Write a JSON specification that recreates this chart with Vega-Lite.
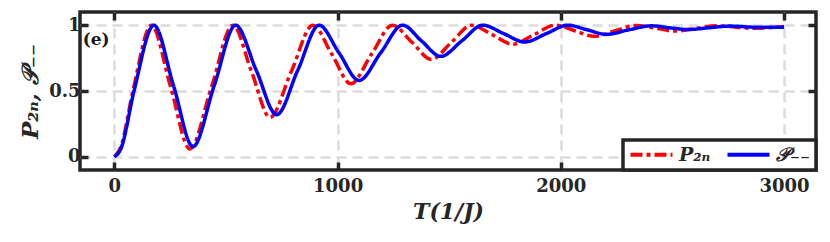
{
  "$schema": "https://vega.github.io/schema/vega-lite/v6.json",
  "width": 736,
  "height": 158,
  "autosize": {"type": "none"},
  "padding": {"left": 80, "top": 12, "right": 14, "bottom": 72},
  "config": {"view": {"stroke": "#262626", "strokeWidth": 3.5}, "font": "DejaVu Serif"},
  "datasets": {
    "curves": [
      {"t": 0, "p": 0, "s": "P₂ₙ"}, {"t": 30, "p": 0.08, "s": "P₂ₙ"}, {"t": 83, "p": 0.5, "s": "P₂ₙ"}, {"t": 166, "p": 1, "s": "P₂ₙ"},
      {"t": 252, "p": 0.53, "s": "P₂ₙ"}, {"t": 338, "p": 0.06, "s": "P₂ₙ"}, {"t": 435, "p": 0.53, "s": "P₂ₙ"}, {"t": 531, "p": 1, "s": "P₂ₙ"},
      {"t": 614, "p": 0.65, "s": "P₂ₙ"}, {"t": 697, "p": 0.3, "s": "P₂ₙ"}, {"t": 793, "p": 0.65, "s": "P₂ₙ"}, {"t": 889, "p": 1, "s": "P₂ₙ"},
      {"t": 974, "p": 0.78, "s": "P₂ₙ"}, {"t": 1059, "p": 0.555, "s": "P₂ₙ"}, {"t": 1152, "p": 0.78, "s": "P₂ₙ"}, {"t": 1246, "p": 1, "s": "P₂ₙ"},
      {"t": 1333, "p": 0.87, "s": "P₂ₙ"}, {"t": 1420, "p": 0.74, "s": "P₂ₙ"}, {"t": 1510, "p": 0.87, "s": "P₂ₙ"}, {"t": 1600, "p": 1, "s": "P₂ₙ"},
      {"t": 1692, "p": 0.928, "s": "P₂ₙ"}, {"t": 1785, "p": 0.855, "s": "P₂ₙ"}, {"t": 1880, "p": 0.928, "s": "P₂ₙ"}, {"t": 1975, "p": 1, "s": "P₂ₙ"},
      {"t": 2062, "p": 0.958, "s": "P₂ₙ"}, {"t": 2150, "p": 0.915, "s": "P₂ₙ"}, {"t": 2244, "p": 0.958, "s": "P₂ₙ"}, {"t": 2338, "p": 0.998, "s": "P₂ₙ"},
      {"t": 2424, "p": 0.977, "s": "P₂ₙ"}, {"t": 2510, "p": 0.955, "s": "P₂ₙ"}, {"t": 2605, "p": 0.975, "s": "P₂ₙ"}, {"t": 2700, "p": 0.995, "s": "P₂ₙ"},
      {"t": 2785, "p": 0.985, "s": "P₂ₙ"}, {"t": 2870, "p": 0.976, "s": "P₂ₙ"}, {"t": 3000, "p": 0.99, "s": "P₂ₙ"},
      {"t": 0, "p": 0, "s": "𝒫₋₋"}, {"t": 30, "p": 0.065, "s": "𝒫₋₋"}, {"t": 88, "p": 0.5, "s": "𝒫₋₋"}, {"t": 177, "p": 1, "s": "𝒫₋₋"},
      {"t": 265, "p": 0.54, "s": "𝒫₋₋"}, {"t": 352, "p": 0.077, "s": "𝒫₋₋"}, {"t": 447, "p": 0.54, "s": "𝒫₋₋"}, {"t": 543, "p": 1, "s": "𝒫₋₋"},
      {"t": 635, "p": 0.66, "s": "𝒫₋₋"}, {"t": 727, "p": 0.32, "s": "𝒫₋₋"}, {"t": 822, "p": 0.66, "s": "𝒫₋₋"}, {"t": 917, "p": 1, "s": "𝒫₋₋"},
      {"t": 1006, "p": 0.79, "s": "𝒫₋₋"}, {"t": 1096, "p": 0.58, "s": "𝒫₋₋"}, {"t": 1193, "p": 0.79, "s": "𝒫₋₋"}, {"t": 1291, "p": 1, "s": "𝒫₋₋"},
      {"t": 1376, "p": 0.88, "s": "𝒫₋₋"}, {"t": 1462, "p": 0.763, "s": "𝒫₋₋"}, {"t": 1556, "p": 0.88, "s": "𝒫₋₋"}, {"t": 1650, "p": 1, "s": "𝒫₋₋"},
      {"t": 1744, "p": 0.936, "s": "𝒫₋₋"}, {"t": 1838, "p": 0.872, "s": "𝒫₋₋"}, {"t": 1935, "p": 0.936, "s": "𝒫₋₋"}, {"t": 2031, "p": 1, "s": "𝒫₋₋"},
      {"t": 2117, "p": 0.965, "s": "𝒫₋₋"}, {"t": 2204, "p": 0.93, "s": "𝒫₋₋"}, {"t": 2305, "p": 0.965, "s": "𝒫₋₋"}, {"t": 2406, "p": 0.995, "s": "𝒫₋₋"},
      {"t": 2487, "p": 0.98, "s": "𝒫₋₋"}, {"t": 2569, "p": 0.967, "s": "𝒫₋₋"}, {"t": 2663, "p": 0.98, "s": "𝒫₋₋"}, {"t": 2757, "p": 0.993, "s": "𝒫₋₋"},
      {"t": 2880, "p": 0.984, "s": "𝒫₋₋"}, {"t": 3000, "p": 0.985, "s": "𝒫₋₋"}
    ],
    "labels": [{"t": -142, "p": 0.885, "label": "(e)"}]
  },
  "layer": [
    {
      "data": {"name": "curves"},
      "mark": {"type": "line", "strokeWidth": 3.5, "interpolate": "monotone"},
      "encoding": {
        "x": {
          "field": "t", "type": "quantitative",
          "scale": {"domain": [-154, 3143], "nice": false, "zero": false},
          "axis": {
            "orient": "bottom", "values": [0, 1000, 2000, 3000], "format": "d",
            "labelFont": "DejaVu Serif", "labelFontWeight": "bold", "labelFontSize": 18, "labelColor": "#262626",
            "labelPadding": 15, "tickSize": -8, "tickWidth": 3.5, "tickColor": "#262626", "domain": false,
            "grid": true, "gridColor": "#dcdcdc", "gridDash": [10, 6], "gridWidth": 2.5,
            "title": "T(1/J)", "titleFont": "DejaVu Serif", "titleFontStyle": "italic", "titleFontWeight": "bold",
            "titleFontSize": 22, "titleColor": "#262626", "titlePadding": 6
          }
        },
        "y": {
          "field": "p", "type": "quantitative",
          "scale": {"domain": [-0.1, 1.1], "nice": false, "zero": false},
          "axis": {
            "orient": "left", "values": [0, 0.5, 1], "format": "~g",
            "labelFont": "DejaVu Serif", "labelFontWeight": "bold", "labelFontSize": 18, "labelColor": "#262626",
            "labelPadding": 8, "tickSize": -8, "tickWidth": 3.5, "tickColor": "#262626", "domain": false,
            "grid": true, "gridColor": "#dcdcdc", "gridDash": [10, 6], "gridWidth": 2.5,
            "title": "P₂ₙ, 𝒫₋₋", "titleFont": "DejaVu Serif", "titleFontStyle": "italic", "titleFontWeight": "bold",
            "titleFontSize": 23, "titleColor": "#262626", "titlePadding": 6
          }
        },
        "color": {
          "field": "s", "type": "nominal",
          "scale": {"domain": ["P₂ₙ", "𝒫₋₋"], "range": ["#ff0000", "#0000ff"]},
          "legend": {
            "orient": "bottom-right", "offset": 0, "direction": "horizontal", "title": null,
            "strokeColor": "#262626", "fillColor": "white", "padding": 5,
            "symbolType": "M-1,0H5", "symbolSize": 196, "symbolStrokeWidth": 4,
            "labelFont": "DejaVu Serif", "labelFontSize": 19, "labelFontStyle": "italic", "labelFontWeight": "bold",
            "labelColor": "#262626", "columnPadding": 8, "labelLimit": 200, "labelOffset": 32,
            "encode": {"legend": {"update": {"strokeWidth": {"value": 3.5}}}}
          }
        },
        "strokeDash": {
          "field": "s", "type": "nominal",
          "scale": {"domain": ["P₂ₙ", "𝒫₋₋"], "range": [[12, 4, 4, 4], [1, 0]]},
          "legend": {
            "orient": "bottom-right", "offset": 0, "direction": "horizontal", "title": null,
            "strokeColor": "#262626", "fillColor": "white", "padding": 5,
            "symbolType": "M-1,0H5", "symbolSize": 196, "symbolStrokeWidth": 4,
            "labelFont": "DejaVu Serif", "labelFontSize": 19, "labelFontStyle": "italic", "labelFontWeight": "bold",
            "labelColor": "#262626", "columnPadding": 8, "labelLimit": 200, "labelOffset": 32,
            "encode": {"legend": {"update": {"strokeWidth": {"value": 3.5}}}}
          }
        }
      }
    },
    {
      "data": {"name": "labels"},
      "mark": {"type": "text", "align": "left", "baseline": "middle", "font": "DejaVu Serif", "fontWeight": "bold", "fontSize": 17, "color": "#1a1a1a"},
      "encoding": {
        "x": {"field": "t", "type": "quantitative", "axis": {"orient": "top", "values": [0, 1000, 2000, 3000], "labels": false, "grid": false, "domain": false, "tickSize": -8, "tickWidth": 3.5, "tickColor": "#262626", "title": null}},
        "y": {"field": "p", "type": "quantitative", "axis": {"orient": "right", "values": [0, 0.5, 1], "labels": false, "grid": false, "domain": false, "tickSize": -8, "tickWidth": 3.5, "tickColor": "#262626", "title": null}},
        "text": {"field": "label"}
      }
    }
  ],
  "resolve": {"axis": {"x": "independent", "y": "independent"}}
}
